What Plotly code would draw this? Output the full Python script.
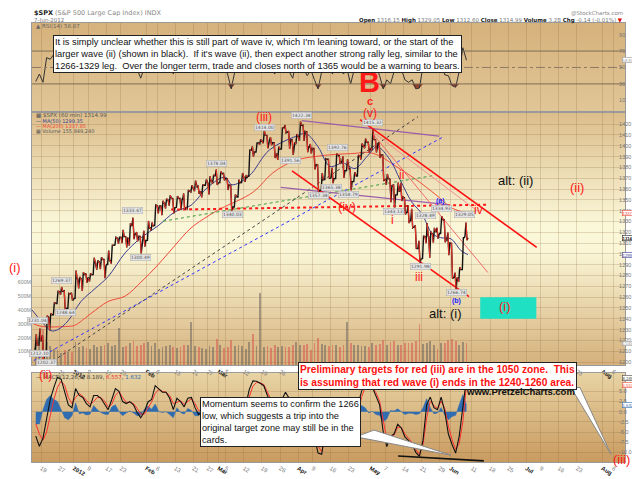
import base64
import plotly.graph_objects as go

# ---------------------------------------------------------------- data
# x = trading day, 0 = 19 Dec 2011 (weekends/holidays removed)
day = list(range(-2, 118))

opens = [1212.1, 1216.1, 1219.7, 1205.7, 1241.3, 1243.7, 1254.0, 1265.0, 1265.4, 1249.8,
         1263.0, 1258.9, 1277.0, 1277.0, 1280.9, 1277.8, 1280.8, 1292.0, 1292.5, 1294.8,
         1290.2, 1293.7, 1308.1, 1314.5, 1315.3, 1316.0, 1314.4, 1326.3, 1318.3, 1316.2,
         1313.5, 1312.5, 1324.2, 1326.2, 1344.3, 1344.3, 1347.0, 1350.0, 1351.2, 1343.1,
         1351.3, 1350.5, 1342.6, 1358.1, 1361.2, 1362.1, 1357.5, 1363.5, 1365.2, 1367.6,
         1372.2, 1365.9, 1374.1, 1369.6, 1363.6, 1343.4, 1352.7, 1366.0, 1370.8, 1371.9,
         1395.9, 1394.2, 1402.6, 1404.2, 1409.6, 1405.5, 1402.9, 1392.8, 1397.1, 1416.6,
         1412.5, 1405.4, 1403.3, 1408.5, 1419.0, 1413.1, 1398.8, 1397.5, 1382.2, 1359.0,
         1368.8, 1387.6, 1370.3, 1369.6, 1390.8, 1385.1, 1377.0, 1378.5, 1367.0, 1372.1,
         1390.6, 1400.2, 1403.3, 1397.9, 1405.5, 1402.3, 1391.5, 1368.8, 1369.2, 1363.2,
         1354.6, 1358.1, 1351.9, 1338.4, 1330.8, 1324.8, 1305.1, 1295.7, 1316.1, 1316.0,
         1318.7, 1320.6, 1318.9, 1331.3, 1313.1, 1309.9, 1278.3, 1277.8, 1285.6, 1316.2]
highs = [1225.6, 1231.0, 1224.6, 1242.8, 1245.1, 1255.2, 1265.4, 1269.4, 1265.9, 1263.5,
         1264.1, 1284.6, 1278.7, 1283.0, 1281.8, 1282.0, 1296.5, 1293.8, 1296.8, 1294.8,
         1303.0, 1308.1, 1315.5, 1315.4, 1322.3, 1316.0, 1328.3, 1333.5, 1320.1, 1316.2,
         1321.4, 1330.5, 1329.2, 1345.3, 1344.4, 1349.2, 1351.0, 1354.3, 1351.2, 1353.4,
         1351.3, 1355.9, 1359.0, 1363.4, 1367.8, 1362.7, 1364.2, 1368.9, 1371.9, 1373.1,
         1378.0, 1376.2, 1374.5, 1369.6, 1363.6, 1354.9, 1368.7, 1374.8, 1373.0, 1396.1,
         1399.4, 1402.6, 1405.9, 1414.0, 1409.6, 1407.8, 1402.9, 1399.2, 1416.6, 1419.2,
         1413.7, 1405.4, 1410.9, 1422.4, 1419.0, 1413.1, 1401.6, 1397.5, 1383.0, 1374.7,
         1388.1, 1387.6, 1379.7, 1392.8, 1390.8, 1390.3, 1387.4, 1378.5, 1375.6, 1391.4,
         1402.1, 1406.6, 1403.3, 1415.3, 1405.5, 1403.1, 1391.5, 1373.9, 1369.2, 1363.7,
         1365.9, 1365.7, 1351.9, 1344.9, 1341.8, 1326.4, 1312.2, 1316.4, 1328.5, 1320.7,
         1324.1, 1324.2, 1334.9, 1331.3, 1319.7, 1309.9, 1282.6, 1287.6, 1315.1, 1329.1]
lows = [1212.1, 1215.2, 1202.4, 1205.7, 1229.5, 1243.7, 1254.0, 1262.3, 1248.6, 1249.8,
        1257.5, 1258.9, 1268.1, 1265.7, 1273.3, 1274.5, 1280.8, 1285.4, 1285.8, 1277.6,
        1290.2, 1291.0, 1308.1, 1309.2, 1309.9, 1306.1, 1307.7, 1313.6, 1311.7, 1300.5,
        1306.7, 1312.5, 1321.6, 1326.2, 1337.5, 1335.9, 1342.0, 1344.6, 1337.4, 1343.1,
        1340.8, 1340.8, 1341.2, 1357.2, 1358.1, 1355.5, 1352.3, 1363.5, 1354.9, 1365.0,
        1363.8, 1365.9, 1368.0, 1359.1, 1340.0, 1343.4, 1352.7, 1366.0, 1366.7, 1371.9,
        1390.0, 1394.2, 1401.0, 1402.4, 1397.7, 1400.6, 1388.7, 1386.9, 1397.1, 1412.0,
        1397.2, 1391.6, 1401.4, 1404.5, 1404.6, 1394.1, 1392.9, 1378.2, 1357.4, 1359.0,
        1368.8, 1369.9, 1365.4, 1369.6, 1383.3, 1370.3, 1377.0, 1358.8, 1367.0, 1372.1,
        1387.3, 1397.8, 1394.0, 1395.7, 1393.9, 1388.7, 1368.0, 1363.9, 1347.8, 1343.1,
        1354.6, 1348.9, 1336.6, 1328.5, 1324.2, 1304.9, 1292.0, 1295.7, 1310.0, 1296.5,
        1310.5, 1314.2, 1318.9, 1310.8, 1298.9, 1277.3, 1266.7, 1274.2, 1285.6, 1312.7]
closes = [1215.8, 1219.7, 1205.4, 1241.3, 1243.7, 1254.0, 1265.3, 1265.4, 1249.6, 1263.0,
          1257.6, 1277.1, 1277.3, 1281.1, 1277.8, 1280.7, 1292.1, 1292.5, 1295.5, 1289.1,
          1293.7, 1308.0, 1314.5, 1315.4, 1316.0, 1314.7, 1326.1, 1318.4, 1316.3, 1313.0,
          1312.4, 1324.1, 1325.5, 1344.9, 1344.3, 1347.1, 1350.0, 1352.0, 1342.6, 1351.8,
          1350.5, 1343.2, 1358.0, 1361.2, 1362.2, 1357.7, 1363.5, 1365.7, 1367.6, 1372.2,
          1365.7, 1374.1, 1369.6, 1364.3, 1343.4, 1352.6, 1365.9, 1370.9, 1371.1, 1396.0,
          1394.3, 1402.6, 1404.2, 1409.8, 1405.5, 1402.9, 1392.8, 1397.1, 1416.5, 1412.5,
          1405.5, 1403.3, 1408.5, 1419.0, 1413.4, 1399.0, 1398.1, 1382.2, 1358.6, 1368.7,
          1387.6, 1370.3, 1369.6, 1390.8, 1385.1, 1376.9, 1378.5, 1366.9, 1372.0, 1390.7,
          1400.0, 1403.4, 1397.9, 1405.8, 1402.3, 1391.6, 1369.1, 1369.6, 1363.7, 1354.6,
          1358.0, 1353.4, 1338.4, 1330.7, 1324.8, 1304.9, 1295.2, 1316.0, 1316.6, 1318.9,
          1320.7, 1317.8, 1332.4, 1313.3, 1310.3, 1278.0, 1278.2, 1285.5, 1315.1, 1315.0]
volume_m = [150, 200, 260, 170, 140, 120, 110, 90, 110, 100,
            95, 170, 130, 140, 125, 120, 150, 130, 140, 150,
            160, 140, 150, 270, 130, 140, 160, 175, 140, 150,
            160, 170, 140, 165, 120, 135, 140, 150, 130, 125,
            135, 150, 145, 315, 140, 130, 125, 120, 140, 135,
            190, 150, 125, 130, 180, 140, 145, 140, 120, 170,
            230, 140, 520, 130, 140, 125, 150, 135, 140, 130,
            135, 150, 170, 145, 150, 155, 110, 160, 200, 155,
            150, 140, 150, 150, 135, 150, 310, 160, 145, 150,
            140, 140, 135, 165, 145, 155, 180, 150, 170, 175,
            150, 145, 160, 165, 160, 175, 300, 155, 160, 175,
            150, 120, 160, 165, 180, 190, 175, 150, 170, 160]

ma50_day = [-2.5, 0, 2.7, 4.6, 7.4, 11, 14.9, 18.5, 23.2, 27.6, 32.3, 37, 41.4, 46.1, 50.8, 52.7, 57.4,
            63, 69.8, 73.2, 76.5, 79.8, 83.4, 86.7, 90, 92.8, 96.4, 99.1, 102.4, 105.2, 108, 110.4,
            113.2, 116, 117.9]
ma50 = [1248, 1238, 1229, 1230, 1238, 1256, 1268, 1279, 1301, 1315, 1326, 1339, 1345, 1362, 1371, 1364, 1372,
        1396, 1408, 1411, 1399, 1381, 1384, 1379, 1390, 1399, 1387, 1369, 1348, 1337, 1319, 1315,
        1314, 1303, 1299.35]
ma200_day = [-2.5, 0, 7.4, 9.3, 13.8, 18.5, 23.2, 27.6, 32.3, 37, 41.4, 46.1, 49.7, 58.5, 64, 69.8,
             75.4, 81.2, 86.7, 90, 93.3, 98, 103.5, 109.3, 113.7, 117.9]
ma200 = [1236, 1233, 1233, 1234, 1245, 1256, 1261, 1274, 1290, 1308, 1324, 1335, 1342, 1357, 1375, 1386,
         1390, 1392, 1393, 1394, 1391, 1381, 1369, 1354, 1342, 1337.85]

rsi = [33, 42, 32, 62, 60, 66, 70, 62, 45, 55,
       50, 66, 56, 60, 52, 55, 65, 58, 60, 45,
       58, 68, 70, 62, 58, 51, 63, 60, 48, 37,
       50, 62, 58, 72, 58, 55, 60, 58, 42, 60,
       50, 48, 66, 62, 52, 47, 58, 60, 50, 62,
       48, 60, 50, 42, 24, 45, 58, 60, 49, 72,
       60, 65, 62, 63, 52, 52, 42, 52, 70, 58,
       45, 37, 58, 65, 48, 40, 47, 35, 24, 45,
       60, 50, 42, 62, 52, 42, 48, 30, 48, 62,
       65, 62, 50, 62, 52, 40, 24, 35, 30, 45,
       48, 48, 35, 32, 35, 24, 25, 52, 55, 46,
       54, 52, 60, 41, 40, 28, 26, 45, 74, 58.87]

macd = [-6, -8.5, -6.5, -2, 3, 6, 8.5, 8, 5, 1.7,
        1, 5.7, 4, 3.5, 2, 1.2, 4, 4, 3.3, 2,
        0.5, 3, 5.7, 5, 2.5, 2, 2.5, 1.7, -0.2, -1.5,
        0, 2.4, 3, 6.4, 5.5, 4.8, 4.8, 3.3, 0.5, 3.3,
        2.5, 1.2, 3.3, 3.5, 1, -0.7, 0, 1, 1.5, 2.5,
        0.5, 1.5, 0.5, -2, -7, -4, -1, 1.5, 1.5, 5.5,
        7.6, 7.5, 7, 6.4, 4, 2, -1, -1.5, 3, 4.8,
        3.3, 1, 1.5, 3.5, 3, -1, -2.5, -6.2, -10.2, -10.5,
        -4.8, -3, -4, -1, -1.5, -2.5, -2, -4, -3, 1.5,
        5, 7, 5.5, 6, 4, 1.7, -5, -8.6, -6, -5.5,
        -3.1, -4, -6.2, -7, -8, -10, -11, -7, 1.7, 3.6,
        1, 0.5, 3.6, 0, -5.5, -8, -10.2, -6, 0.5, 8.19]
signal = [-3, -5.5, -7, -5, -1, 3, 6, 7.5, 6.5, 3.5,
          2, 3.5, 4.5, 3.8, 2.8, 1.8, 2.5, 3.5, 3.5, 2.6,
          1.2, 1.8, 4, 5, 3.5, 2.3, 2.3, 2, 0.8, -0.6,
          -0.6, 1, 2.4, 4.5, 5.5, 5, 4.8, 4, 2, 2.3,
          2.7, 1.8, 2.5, 3.2, 2, 0.3, 0, 0.6, 1.2, 2,
          1.2, 1.3, 0.9, -0.8, -4.5, -4.8, -2.5, 0, 1, 3.5,
          6.3, 7.2, 7.1, 6.7, 5, 3, 0.5, -1, 1, 3.5,
          3.5, 2, 1.5, 2.7, 3, 0.8, -1.5, -4.5, -8.5, -9.8,
          -6.5, -4, -4, -2, -1.6, -2.2, -2.1, -3.4, -3.2, -0.5,
          3.5, 6, 5.8, 5.9, 4.7, 2.6, -2.5, -6.8, -6.3, -5.7,
          -3.8, -3.9, -5.5, -6.6, -7.6, -9.3, -10.5, -8, -1.5, 2.6,
          1.5, 0.8, 2.6, 0.8, -3.5, -6.8, -9.3, -7.8, -2.5, 6.56]
hist = [-3, -3, 0.5, 3, 4, 3, 2.5, 0.5, -1.5, -2,
        -1, 2.2, -0.5, -0.3, -0.8, -0.6, 1.5, 0.5, -0.2, -0.6,
        -0.7, 1.2, 1.7, 0, -1, -0.3, 0.2, -0.3, -1, -0.9,
        0.6, 1.4, 0.6, 1.9, 0, -0.2, 0, -0.7, -1.5, 1,
        -0.2, -0.6, 0.8, 0.3, -1, -1, 0, 0.4, 0.3, 0.5,
        -0.7, 0.2, -0.4, -1.2, -2.5, 0.8, 1.5, 1.5, 0.5, 2,
        1.3, 0.3, -0.1, -0.3, -1, -1, -1.5, -0.5, 2, 1.3,
        -0.2, -1, 0, 0.8, 0, -1.8, -1, -1.7, -1.7, -0.7,
        1.7, 1, 0, 1, 0.1, -0.3, 0.1, -0.6, 0.2, 2,
        1.5, 1, -0.3, 0.1, -0.7, -0.9, -2.5, -1.8, 0.3, 0.2,
        0.7, -0.1, -0.7, -0.4, -0.4, -0.7, -0.5, 1, 3.2, 1,
        -0.5, -0.3, 1, -0.8, -2, -1.2, -0.9, 1.7, 4.2, 1.63]

tick_day = [0, 5, 9, 13, 18, 22, 29, 32, 37, 42, 46, 49, 51, 56, 61, 66, 71, 75, 80, 85, 91,
            95, 100, 105, 110, 113, 119, 124, 129, 134, 138, 143, 148, 155, 158]
tick_text = ['19', '27', '2012', '9', '17', '23', 'Feb', '6', '13', '21', '27', 'Mar', '5', '12', '19',
             '26', 'Apr', '9', '16', '23', 'May', '7', '14', '21', '29', 'Jun', '11', '18', '25', 'Jul',
             '9', '16', '23', 'Aug', '6']
months = ['2012', 'Feb', 'Mar', 'Apr', 'May', 'Jun', 'Jul', 'Aug']

# hand-drawn trend lines (day, price)
trend_lines = {
    'red_dash':   ([35.9, 123.4], [1341.0, 1345.5], '#ff1a1a', 2, 'dot'),
    'green':      ([33.7, 108.0], [1330.3, 1372.3], '#3c9a3c', 1, 'dot'),
    'black':      ([-0.9, 104.1], [1191.6, 1426.9], '#444444', 1, 'dot'),
    'blue':       ([-6.4, 111.0], [1193.4, 1408.1], '#3333ff', 1, 'dot'),
    'purple_top': ([72.0, 109.9], [1423.3, 1409.0], '#9a5ea8', 1.3, 'solid'),
    'purple_low': ([66.2, 112.4], [1361.6, 1345.5], '#9a5ea8', 1.3, 'solid'),
    'chan_low':   ([69.3, 118.2], [1376.8, 1260.5], '#ff1010', 1.6, 'solid'),
    'chan_high':  ([88.1, 136.9], [1424.2, 1306.1], '#ff1010', 1.6, 'solid'),
    'thin_1':     ([91.7, 123.4], [1410.7, 1282.8], '#f06a6a', 1, 'solid'),
    'thin_2':     ([91.7, 120.7], [1412.5, 1339.2], '#f29090', 1, 'solid'),
}
zone_days = [121.3, 136.8]
zone_prices = [1240, 1260]
div_days = [98.6, 122.3]
div_macd = [-10.9, -12.1]

# ---------------------------------------------------------------- layout helpers
W, H = 640, 479
ML, MR, MT, MB = 24, 23, 15, 10


def pos(x, y):
    return (x - ML) / (W - ML - MR), (H - MB - y) / (H - MT - MB)


rsi_dom = [pos(0, 107)[1], 1.0]
price_dom = [pos(0, 369)[1], pos(0, 107)[1]]
macd_dom = [0.0, pos(0, 377)[1]]
x_range = [-2.54, 161.3]


def gradient(stops):
    s = ''.join(f'<stop offset="{o}" stop-color="{c}"/>' for o, c in stops)
    svg = ('<svg xmlns="http://www.w3.org/2000/svg" width="10" height="100" viewBox="0 0 10 100" '
           'preserveAspectRatio="none"><defs><linearGradient id="g" x1="0" y1="0" x2="0" y2="1">'
           + s + '</linearGradient></defs><rect width="10" height="100" fill="url(#g)"/></svg>')
    return 'data:image/svg+xml;base64,' + base64.b64encode(svg.encode()).decode()


fig = go.Figure()

# volume (base axis of price panel)
mid = [d + 0.5 for d in day]
vol_col = ['rgba(215,95,85,0.6)' if c < o else 'rgba(105,100,95,0.55)' for o, c in zip(opens, closes)]
fig.add_trace(go.Bar(x=mid, y=[v * 1e6 for v in volume_m], width=0.5,
                     marker=dict(color=vol_col, line_width=0), xaxis='x2', yaxis='y2'))

# moving averages
fig.add_trace(go.Scatter(x=ma200_day, y=ma200, mode='lines', line=dict(color='#f04a3a', width=1, shape='spline'),
                         xaxis='x2', yaxis='y3'))
fig.add_trace(go.Scatter(x=ma50_day, y=ma50, mode='lines', line=dict(color='#3b3d8f', width=1, shape='spline'),
                         xaxis='x2', yaxis='y3'))

for xs, ys, col, w, dash in trend_lines.values():
    fig.add_trace(go.Scatter(x=xs, y=ys, mode='lines', line=dict(color=col, width=w, dash=dash),
                             xaxis='x2', yaxis='y3'))

# price path from daily OHLC (open, extreme, extreme, close)
pxs, pys = [], []
for d, o, h, l, c in zip(day, opens, highs, lows, closes):
    a, b = (l, h) if c >= o else (h, l)
    pxs += [d + 0.08, d + 0.36, d + 0.64, d + 0.92]
    pys += [o, a, b, c]
rx, ry = [], []
for i in range(1, len(pxs)):
    if pys[i] < pys[i - 1]:
        rx += [pxs[i - 1], pxs[i], None]
        ry += [pys[i - 1], pys[i], None]
fig.add_trace(go.Scatter(x=pxs, y=pys, mode='lines', line=dict(color='#111111', width=1.4),
                         xaxis='x2', yaxis='y3'))
fig.add_trace(go.Scatter(x=rx, y=ry, mode='lines', line=dict(color='#e8332a', width=1.2),
                         xaxis='x2', yaxis='y3'))

# RSI
fig.add_trace(go.Scatter(x=mid, y=[30] * len(mid), mode='lines', line=dict(width=0), xaxis='x', yaxis='y'))
fig.add_trace(go.Scatter(x=mid, y=[min(r, 30) for r in rsi], mode='lines', fill='tonexty',
                         fillcolor='rgba(130,35,25,0.8)', line=dict(width=0), xaxis='x', yaxis='y'))
fig.add_trace(go.Scatter(x=mid, y=rsi, mode='lines', line=dict(color='#333333', width=1), xaxis='x', yaxis='y'))

# MACD
fig.add_trace(go.Scatter(x=mid, y=hist, mode='lines', fill='tozeroy', fillcolor='#2f6cb0',
                         line=dict(color='#2f6cb0', width=0.5), xaxis='x3', yaxis='y4'))
fig.add_trace(go.Scatter(x=mid, y=signal, mode='lines', line=dict(color='#ff3030', width=1), xaxis='x3', yaxis='y4'))
fig.add_trace(go.Scatter(x=mid, y=macd, mode='lines', line=dict(color='#111111', width=1.1), xaxis='x3', yaxis='y4'))
fig.add_trace(go.Scatter(x=div_days, y=div_macd, mode='lines', line=dict(color='#111111', width=1.6),
                         xaxis='x3', yaxis='y4', cliponaxis=False))

# ---------------------------------------------------------------- shapes
shapes = [
    dict(type='line', xref='x domain', yref='y', x0=0, x1=1, y0=70, y1=70, line=dict(color='#7d6d55', width=1)),
    dict(type='line', xref='x domain', yref='y', x0=0, x1=1, y0=30, y1=30, line=dict(color='#7d6d55', width=1)),
    dict(type='line', xref='x domain', yref='y', x0=0, x1=1, y0=50, y1=50,
         line=dict(color='#8d7d65', width=1, dash='dashdot')),
    dict(type='rect', xref='x2', yref='y3', x0=zone_days[0], x1=zone_days[1], y0=zone_prices[0], y1=zone_prices[1],
         fillcolor='#1fe0c2', line=dict(width=0), layer='above'),
]
a, b, c = pos(563, 392), pos(603, 461), pos(572, 392)
shapes.append(dict(type='path', xref='paper', yref='paper', path=f'M {a[0]},{a[1]} L {b[0]},{b[1]} L {c[0]},{c[1]} Z',
                   fillcolor='white', line=dict(color='#888888', width=1)))
a, b, c = pos(348, 443), pos(443, 462), pos(366, 436)
shapes.append(dict(type='path', xref='paper', yref='paper', path=f'M {a[0]},{a[1]} L {b[0]},{b[1]} L {c[0]},{c[1]} Z',
                   fillcolor='white', line=dict(color='#888888', width=1)))

images = [
    dict(source=gradient([(0, '#d6b27c'), (1, '#e1c697')]), xref='paper', yref='paper', x=0, y=rsi_dom[1],
         sizex=1, sizey=rsi_dom[1] - rsi_dom[0], xanchor='left', yanchor='top', sizing='stretch', layer='below'),
    dict(source=gradient([(0, '#dcbd8a'), (0.45, '#fbf8da'), (0.55, '#faf6d6'), (1, '#d5b07b')]), xref='paper',
         yref='paper', x=0, y=price_dom[1], sizex=1, sizey=price_dom[1] - price_dom[0], xanchor='left',
         yanchor='top', sizing='stretch', layer='below'),
    dict(source=gradient([(0, '#e8d3a4'), (1, '#c99b60')]), xref='paper', yref='paper', x=0, y=macd_dom[1],
         sizex=1, sizey=macd_dom[1] - macd_dom[0], xanchor='left', yanchor='top', sizing='stretch', layer='below'),
]

# ---------------------------------------------------------------- annotations
ann = []
ARIAL = 'Liberation Sans'


def label(text, x, y, size=12, color='#ff1a1a', family=ARIAL, xanchor='center', yanchor='middle', **kw):
    ax, ay = pos(x, y)
    ann.append(dict(text=text, x=ax, y=ay, xref='paper', yref='paper', showarrow=False,
                    xanchor=xanchor, yanchor=yanchor, font=dict(family=family, size=size, color=color), **kw))


# header
label('<b>$SPX</b> <span style="color:#888">(S&P 500 Large Cap Index) INDX</span>', 24, 5, size=6.5,
      color='#222', family='DejaVu Sans', xanchor='left')
label('7-Jun-2012', 24, 12, size=5.5, color='#777', family='DejaVu Sans', xanchor='left')
label('@StockCharts.com', 617, 5, size=5.5, color='#888', family='DejaVu Sans', xanchor='right')
label('<b>Open</b> <span style="color:#777">1316.15</span> <b>High</b> <span style="color:#777">1329.05</span> '
      '<b>Low</b> <span style="color:#777">1312.60</span> <b>Close</b> <span style="color:#777">1314.99</span> '
      '<b>Volume</b> <span style="color:#777">3.2B</span> <b>Chg</b> <span style="color:#777">-0.14 (-0.01%)</span> '
      '<span style="color:#d00">▼</span>', 617, 12, size=5.5, color='#222', family='DejaVu Sans', xanchor='right')

# panel legends
label('▲ RSI(14) 58.87', 26, 18, size=5.5, color='#666', family='DejaVu Sans', xanchor='left')
label('▦ $SPX (60 min) 1314.99', 26, 110, size=5.5, color='#555', family='DejaVu Sans', xanchor='left')
label('— MA(50) 1299.35', 26, 116, size=5, color='#3b3d8f', family='DejaVu Sans', xanchor='left')
label('— MA(200) 1337.85', 26, 121.5, size=5, color='#f04a3a', family='DejaVu Sans', xanchor='left')
label('▦ Volume 155,849,240', 26, 127, size=5, color='#555', family='DejaVu Sans', xanchor='left')
label('— MACD(12,26,9) 8.189, <span style="color:#f03030">6.557</span>, <span style="color:#2f6cb0">1.632</span>',
      26, 381, size=5.5, color='#444', family='DejaVu Sans', xanchor='left')

# price point labels
for txt, x, y in [('1212.10', 31, 357), ('1202.37', 38, 366), ('1231.04', 29, 323), ('1248.64', 57, 314),
                  ('1269.37', 53, 281), ('1333.47', 124, 209), ('1300.49', 132, 257), ('1378.04', 208, 160),
                  ('1340.03', 224, 213), ('1414.00', 256, 123), ('1422.38', 293, 111), ('1391.56', 282, 157),
                  ('1357.38', 310, 193), ('1365.38', 323, 185), ('1392.76', 329, 144), ('1358.79', 341, 192),
                  ('1415.32', 364, 118), ('1343.13', 385, 210), ('1328.49', 417, 214), ('1334.93', 433, 207),
                  ('1291.98', 412, 267), ('1266.74', 448, 294), ('1329.05', 456, 213)]:
    label(txt, x, y, size=4.5, color='#555', family='DejaVu Sans', bgcolor='#e4e4e4', bordercolor='#aaaaaa',
          borderwidth=0.5, borderpad=0.5)

# wave labels
label('<b>B</b>', 361, 76, size=29)
label('<b>c</b>', 362, 96, size=11)
label('(v)', 362, 108, size=12)
label('(iii)', 256, 112, size=12)
label('(iv)', 339, 205, size=13)
label('ii', 393, 172, size=12)
label('i', 384, 219, size=12)
label('iii', 411, 278, size=12)
label('iv', 470, 208, size=12)
label('(ii)', 569, 185, size=13)
label('(i)', 7, 268, size=13)
label('(ii)', 37, 379, size=12)
label('(iii)', 613, 466, size=13)
label('(i)', 497, 308, size=13)
label('<b>(a)</b>', 432, 199, size=7, color='#2020ff')
label('<b>(b)</b>', 448, 302, size=7, color='#2020ff')
label('alt: (ii)', 507, 178, size=13, color='#111111')
label('alt: (i)', 437, 315, size=13, color='#111111')

# comment boxes
label('It is simply unclear whether this is still part of wave iv, which I\'m leaning toward, or the start of the<br>'
      'larger wave (ii) (shown in black).\u00a0 If it\'s wave (ii), then expect another strong rally leg, similar to the<br>'
      '1266-1329 leg.\u00a0 Over the longer term, trade and closes north of 1365 would be a warning to bears.',
      45, 27, size=9.3, color='#111', xanchor='left', yanchor='top', align='left',
      bgcolor='white', bordercolor='#222', borderwidth=1, borderpad=1)
label('<b>Preliminary targets for red (iii) are in the 1050 zone.\u00a0 This<br>'
      'is assuming that red wave (i) ends in the 1240-1260 area.</b>',
      290, 366, size=10.2, color='#ff1010', xanchor='left', yanchor='top', align='left',
      bgcolor='white', bordercolor='#222', borderwidth=1, borderpad=1)
label('<b>www.PretzelCharts.com</b>', 512, 396, size=9.5, color='#111')
label('Momentum seems to confirm the 1266<br>low, which suggests a trip into the<br>'
      'original target zone may still be in the<br>cards.',
      192, 402, size=9.2, color='#111', xanchor='left', yanchor='top', align='left',
      bgcolor='white', bordercolor='#222', borderwidth=1, borderpad=1)

# right-hand value tags, laid over the tick labels
tag_x = pos(614, 0)[0]
for txt, yref, val, col, bold in [('58.87', 'y', 58.87, '#999999', False),
                                  ('1337.85', 'y3', 1337.85, '#f04a3a', False),
                                  ('1314.99', 'y3', 1314.99, '#222222', True),
                                  ('1299.35', 'y3', 1299.35, '#3b3d8f', False),
                                  ('155849240', 'y2', 155.85e6, '#999999', False),
                                  ('8.189', 'y4', 8.189, '#444444', False),
                                  ('6.557', 'y4', 6.557, '#f04a3a', False),
                                  ('1.632', 'y4', 1.632, '#2f6cb0', False)]:
    ann.append(dict(text=f'<b>{txt}</b>' if bold else txt, x=tag_x, y=val, xref='paper', yref=yref,
                    showarrow=False, xanchor='left', yanchor='middle', bgcolor='white', bordercolor=col,
                    borderwidth=0.6, borderpad=0,
                    font=dict(family=ARIAL, size=4.2 if len(txt) < 8 else 3.7, color='#111' if bold else col)))

# ---------------------------------------------------------------- axes
grid = 'rgba(130,100,55,0.22)'
tick_font = dict(family=ARIAL, size=5.8, color='#777')
ticks_fmt = [f'<b style="color:#111">{t}</b>' if t in months else t for t in tick_text]
xcommon = dict(range=x_range, tickvals=tick_day, ticktext=ticks_fmt, showgrid=True, gridcolor=grid,
               gridwidth=1, zeroline=False, showline=True, linecolor='#9a9a9a', mirror=True, ticks='',
               tickfont=tick_font, fixedrange=True)
ycommon = dict(side='right', showline=True, linecolor='#9a9a9a', mirror=True, ticks='', ticklen=0,
               ticklabelstandoff=-8, zeroline=False, tickfont=dict(family=ARIAL, size=5.5, color='#777'),
               gridcolor=grid, fixedrange=True)

fig.update_layout(
    width=W, height=H, margin=dict(l=ML, r=MR, t=MT, b=MB),
    paper_bgcolor='white', plot_bgcolor='rgba(0,0,0,0)', showlegend=False, hovermode=False,
    bargap=0,
    xaxis=dict(xcommon, anchor='y', domain=[0, 1], showticklabels=False),
    xaxis2=dict(xcommon, anchor='y2', domain=[0, 1], showticklabels=True),
    xaxis3=dict(xcommon, anchor='y4', domain=[0, 1], showticklabels=True),
    yaxis=dict(ycommon, domain=rsi_dom, range=[-4.1, 104.1], tickvals=[10, 30, 50, 70, 90], showgrid=False),
    yaxis2=dict(domain=price_dom, range=[0, 1832e6], side='left', anchor='x2', showgrid=False, zeroline=False,
                tickvals=[1e8, 2e8, 3e8, 4e8, 5e8, 6e8], ticktext=['100M', '200M', '300M', '400M', '500M', '600M'],
                tickfont=dict(family=ARIAL, size=5.3, color='#888'), ticks='', showline=False,
                fixedrange=True),
    yaxis3=dict(ycommon, overlaying='y2', anchor='x2', range=[1196.97, 1431.3],
                tickvals=list(range(1200, 1430, 10)), showgrid=True),
    yaxis4=dict(ycommon, domain=macd_dom, anchor='x3', range=[-12.38, 9.52],
                tickvals=[-10, -7.5, -5, -2.5, 0, 2.5, 5],
                ticktext=['-10.0', '-7.5', '-5.0', '-2.5', '0.0', '2.5', '5.0'], showgrid=True),
    shapes=shapes, images=images, annotations=ann,
)

fig.write_html('out.html')
